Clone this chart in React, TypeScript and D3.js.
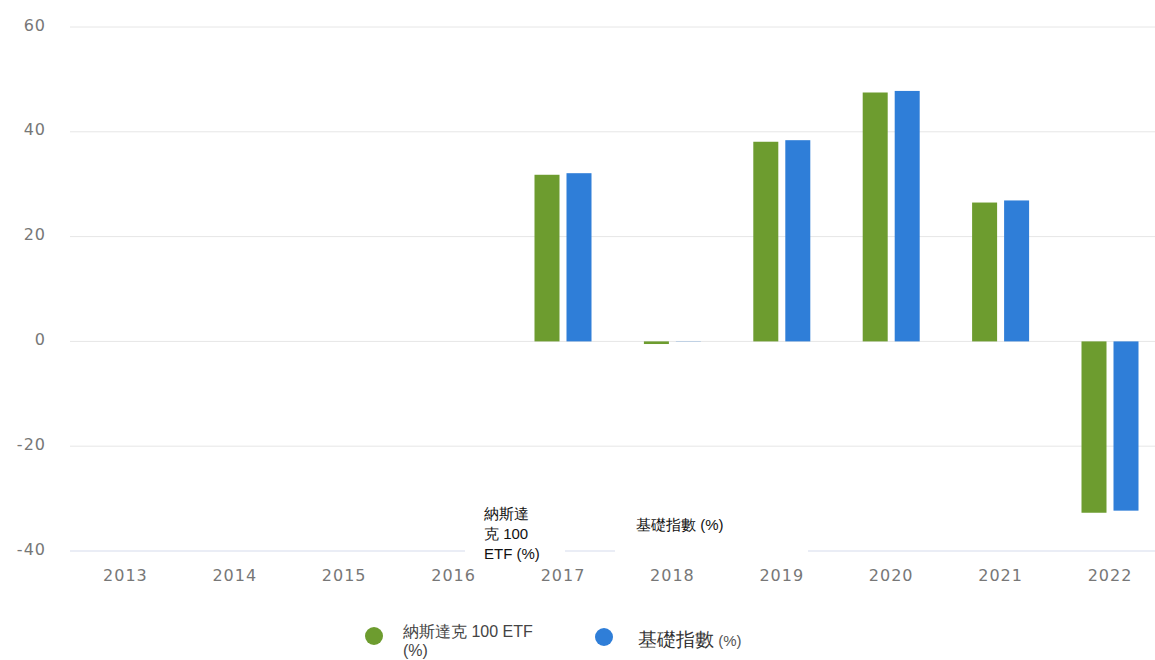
import React from "react";
import * as d3 from "d3";

// données
const years = ["2013", "2014", "2015", "2016", "2017", "2018", "2019", "2020", "2021", "2022"];
const etfValues = [null, null, null, null, 31.8, -0.5, 38.1, 47.5, 26.5, -32.7];
const indexValues = [null, null, null, null, 32.1, -0.04, 38.4, 47.8, 26.9, -32.3];
const yTicks = [60, 40, 20, 0, -20, -40];
const seriesNames = ["納斯達克 100 ETF (%)", "基礎指數 (%)"];
const seriesColors = ["#6d9c2f", "#2f7ed8"];

const W = 1155, H = 660;
const gridLeft = 70;
const axisFont = "'DejaVu Sans', sans-serif";
const labelFont = "'Liberation Sans', Arial, sans-serif";

export default function App() {
    const y = d3.scaleLinear().domain([-40, 60]).range([551, 27]);
    const x = d3.scaleBand<string>().domain(years).range([70.7, 1164.7]).paddingInner(0);
    const xSub = d3.scaleBand<string>().domain(["etf", "index"]).range([0, 57]).paddingInner(0.21875);

    const groupLeft = (yr: string) => (x(yr) as number) + x.bandwidth() / 2 - 28.5;

    const series = [
        { key: "etf", values: etfValues, color: seriesColors[0] },
        { key: "index", values: indexValues, color: seriesColors[1] },
    ];

    return (
        <svg width={W} height={H} style={{ position: "absolute", left: 0, top: 0, background: "#fff" }}>
            {/* grille */}
            {yTicks.map((t) => (
                <line key={"g" + t} x1={gridLeft} x2={W} y1={y(t)} y2={y(t)}
                    stroke={t === -40 ? "#d5dbec" : "#e6e6e6"} strokeWidth={1} />
            ))}
            {yTicks.map((t) => (
                <text key={"yl" + t} x={46} y={y(t) - 2} dy="0.35em" textAnchor="end"
                    fontFamily={axisFont} fontSize={16} letterSpacing={1} fill="#777">{t}</text>
            ))}

            {/* barres */}
            {series.map((s) =>
                s.values.map((v, i) => {
                    if (v === null) return null;
                    const yr = years[i];
                    const top = y(Math.max(0, v));
                    const h = Math.abs(y(v) - y(0));
                    return (
                        <rect key={s.key + yr} x={groupLeft(yr) + (xSub(s.key) as number)} y={top}
                            width={xSub.bandwidth()} height={h} fill={s.color} />
                    );
                })
            )}

            {/* étiquettes x */}
            {years.map((yr) => (
                <text key={"xl" + yr} x={(x(yr) as number) + x.bandwidth() / 2} y={581} textAnchor="middle"
                    fontFamily={axisFont} fontSize={16} fill="#777" letterSpacing={1}>{yr}</text>
            ))}

            {/* cases blanches avec libellés */}
            <rect x={465} y={492} width={100} height={77} fill="#fff" />
            <rect x={615} y={505} width={193} height={57} fill="#fff" />
            <text fontFamily={labelFont} fontSize={15} fill="#111">
                <tspan x={484} y={519}>納斯達</tspan>
                <tspan x={484} y={539}>克 100</tspan>
                <tspan x={484} y={559}>ETF (%)</tspan>
            </text>
            <text x={636} y={530} fontFamily={labelFont} fontSize={15} fill="#111">{seriesNames[1]}</text>

            {/* légende */}
            <circle cx={374} cy={636} r={9} fill={seriesColors[0]} />
            <text fontFamily={labelFont} fontSize={16} fill="#444">
                <tspan x={403} y={637}>納斯達克 100 ETF</tspan>
                <tspan x={403} y={656}>(%)</tspan>
            </text>
            <circle cx={604} cy={637} r={9} fill={seriesColors[1]} />
            <text x={638} y={646} fontFamily={labelFont} fill="#333">
                <tspan fontSize={19}>基礎指數</tspan>
                <tspan fontSize={15} fill="#555"> (%)</tspan>
            </text>
        </svg>
    );
}
